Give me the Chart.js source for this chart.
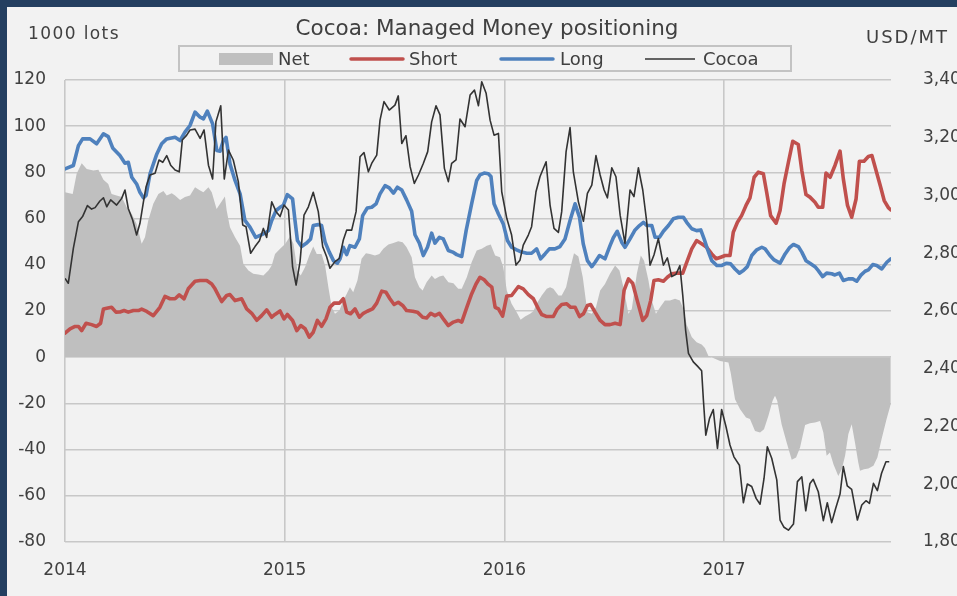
<!DOCTYPE html>
<html>
<head>
<meta charset="utf-8">
<script src="https://cdn.jsdelivr.net/npm/chart.js@4/dist/chart.umd.min.js"></script>
<style>
  html, body { margin: 0; padding: 0; background: #F2F2F2; overflow: hidden; }
  #wrap { position: relative; width: 957px; height: 596px; overflow: hidden; background: #F2F2F2; }
  #c { position: absolute; left: 0; top: 0; }
  .edge { position: absolute; background: #243F60; z-index: 2; }
</style>
</head>
<body>
<div id="wrap">
  <canvas id="c" width="1010" height="596"></canvas>
  <div class="edge" style="left:0;top:0;width:957px;height:7px"></div>
  <div class="edge" style="left:0;top:0;width:7px;height:596px"></div>
</div>
<script>
// ---------------- DATA ----------------
const yearTicks = [2014, 2015, 2016, 2017];
const leftTicks = [-80, -60, -40, -20, 0, 20, 40, 60, 80, 100, 120];
const rightTicks = [1800, 2000, 2200, 2400, 2600, 2800, 3000, 3200, 3400];
const seriesNames = ['Net', 'Short', 'Long', 'Cocoa'];

// Net managed money position, 1000 lots
const netYears = [2014.000,2014.035,2014.053,2014.076,2014.099,2014.129,2014.152,2014.175,2014.197,2014.212,2014.235,2014.258,2014.281,2014.304,2014.326,2014.349,2014.364,2014.379,2014.402,2014.425,2014.448,2014.463,2014.486,2014.501,2014.524,2014.546,2014.569,2014.592,2014.615,2014.630,2014.653,2014.668,2014.690,2014.706,2014.728,2014.736,2014.751,2014.774,2014.797,2014.812,2014.835,2014.857,2014.880,2014.903,2014.926,2014.941,2014.956,2014.979,2015.002,2015.024,2015.040,2015.058,2015.073,2015.093,2015.112,2015.130,2015.146,2015.168,2015.184,2015.199,2015.214,2015.229,2015.249,2015.267,2015.282,2015.297,2015.312,2015.331,2015.350,2015.370,2015.388,2015.411,2015.431,2015.449,2015.472,2015.495,2015.517,2015.537,2015.555,2015.578,2015.593,2015.613,2015.628,2015.646,2015.669,2015.684,2015.704,2015.722,2015.745,2015.768,2015.790,2015.806,2015.829,2015.851,2015.874,2015.897,2015.920,2015.938,2015.958,2015.980,2015.995,2016.011,2016.033,2016.056,2016.074,2016.094,2016.117,2016.132,2016.147,2016.170,2016.193,2016.208,2016.223,2016.246,2016.261,2016.281,2016.299,2016.317,2016.337,2016.357,2016.378,2016.398,2016.417,2016.436,2016.458,2016.481,2016.504,2016.524,2016.542,2016.565,2016.580,2016.603,2016.621,2016.636,2016.656,2016.671,2016.690,2016.709,2016.731,2016.754,2016.777,2016.799,2016.815,2016.830,2016.853,2016.875,2016.898,2016.913,2016.929,2016.951,2016.982,2017.020,2017.030,2017.050,2017.073,2017.100,2017.118,2017.141,2017.164,2017.182,2017.202,2017.221,2017.232,2017.242,2017.262,2017.285,2017.308,2017.328,2017.346,2017.369,2017.391,2017.414,2017.437,2017.452,2017.467,2017.482,2017.498,2017.520,2017.536,2017.551,2017.566,2017.581,2017.596,2017.611,2017.619,2017.637,2017.657,2017.680,2017.698,2017.717,2017.740,2017.759];
const netValues = [71.4,70.7,79.4,84.0,81.5,80.8,81.1,76.8,75.0,70.7,70.0,69.3,64.9,62.0,57.7,49.1,51.9,59.2,66.4,70.7,71.9,70.0,71.0,70.0,68.1,69.3,70.0,73.6,72.2,71.4,73.6,71.4,64.2,66.4,69.6,63.5,56.3,51.9,48.3,40.4,37.5,36.1,35.8,35.4,37.5,39.7,44.7,47.0,49.0,52.2,49.1,37.5,35.4,39.0,44.0,47.9,44.7,44.7,39.7,30.3,21.6,18.8,20.2,24.5,27.4,30.3,28.1,33.2,42.6,45.0,44.7,44.0,44.7,46.9,48.8,49.4,50.2,49.8,47.6,43.3,34.6,30.3,28.9,32.5,35.4,33.9,34.9,35.4,32.5,32.0,29.6,29.6,34.6,41.1,46.2,46.9,48.3,48.8,44.0,43.3,39.0,28.9,23.1,19.5,16.2,17.6,18.8,19.9,23.1,26.7,29.6,30.3,29.6,26.7,26.7,30.3,38.2,45.0,43.6,34.6,19.5,18.8,21.6,28.9,31.7,36.1,39.7,37.5,30.3,18.8,20.9,36.1,44.0,41.8,33.2,24.5,18.8,21.6,24.5,24.5,25.3,24.5,20.9,14.0,8.7,6.5,5.5,4.0,0.5,-0.3,-1.6,-2.3,-6.6,-18.2,-22.5,-26.1,-26.8,-31.9,-32.6,-31.2,-25.4,-18.9,-16.7,-18.9,-29.0,-36.9,-44.4,-43.4,-39.1,-29.4,-28.6,-28.3,-27.6,-32.6,-42.7,-41.3,-46.3,-51.4,-48.5,-42.7,-33.3,-29.0,-36.9,-45.6,-49.2,-48.5,-48.2,-47.0,-43.4,-35.5,-26.8,-20.3];

// Short positions, 1000 lots
const shortYears = [2014.000,2014.023,2014.046,2014.061,2014.076,2014.096,2014.121,2014.144,2014.162,2014.175,2014.190,2014.212,2014.232,2014.250,2014.269,2014.288,2014.311,2014.334,2014.349,2014.372,2014.402,2014.432,2014.455,2014.478,2014.501,2014.520,2014.542,2014.561,2014.592,2014.615,2014.645,2014.668,2014.683,2014.713,2014.736,2014.751,2014.774,2014.804,2014.827,2014.850,2014.873,2014.895,2014.918,2014.941,2014.956,2014.979,2014.997,2015.012,2015.036,2015.055,2015.073,2015.093,2015.112,2015.130,2015.149,2015.168,2015.188,2015.206,2015.225,2015.249,2015.267,2015.282,2015.300,2015.320,2015.340,2015.358,2015.376,2015.400,2015.419,2015.442,2015.461,2015.479,2015.498,2015.517,2015.537,2015.555,2015.583,2015.604,2015.628,2015.646,2015.665,2015.684,2015.704,2015.722,2015.745,2015.768,2015.790,2015.806,2015.829,2015.851,2015.871,2015.889,2015.908,2015.927,2015.943,2015.958,2015.973,2015.992,2016.011,2016.033,2016.064,2016.086,2016.109,2016.132,2016.155,2016.170,2016.193,2016.223,2016.241,2016.261,2016.284,2016.302,2016.322,2016.342,2016.360,2016.378,2016.393,2016.413,2016.436,2016.458,2016.481,2016.504,2016.527,2016.545,2016.565,2016.584,2016.605,2016.630,2016.648,2016.666,2016.681,2016.701,2016.724,2016.742,2016.762,2016.785,2016.812,2016.830,2016.853,2016.875,2016.898,2016.921,2016.944,2016.964,2016.985,2017.005,2017.027,2017.042,2017.061,2017.080,2017.100,2017.118,2017.137,2017.156,2017.179,2017.194,2017.212,2017.237,2017.255,2017.273,2017.293,2017.313,2017.338,2017.354,2017.373,2017.391,2017.414,2017.429,2017.449,2017.464,2017.483,2017.505,2017.528,2017.543,2017.562,2017.581,2017.601,2017.616,2017.637,2017.657,2017.673,2017.692,2017.711,2017.729,2017.749,2017.759];
const shortValues = [10.4,12.3,13.3,13.3,11.5,14.7,14.1,13.3,14.7,20.9,21.2,21.6,19.5,19.6,20.2,19.5,20.2,20.2,20.8,19.8,18.0,21.6,26.3,25.3,25.3,27.0,25.3,29.6,32.9,33.2,33.2,31.7,29.6,24.1,26.7,27.1,24.5,25.3,20.9,19.0,16.0,18.0,20.5,17.3,18.5,20.0,16.6,18.5,15.9,11.5,13.7,12.3,8.7,10.8,15.9,13.4,16.6,21.6,23.4,23.4,25.3,19.5,18.8,20.9,17.3,19.0,19.9,20.9,23.4,28.6,28.1,25.3,22.8,23.8,22.4,20.2,19.9,19.5,17.3,17.0,19.0,18.0,19.0,16.6,13.7,15.2,15.9,15.2,21.6,27.4,31.7,34.6,33.5,31.5,30.3,21.6,20.9,17.8,26.5,26.7,30.6,29.6,27.1,25.3,20.9,18.5,17.6,17.6,20.9,22.8,23.1,21.6,21.6,17.6,18.8,22.4,22.8,19.5,15.9,14.1,14.1,14.7,14.1,28.9,33.9,32.0,24.5,15.9,18.0,24.5,33.2,33.5,32.9,34.6,36.1,36.4,36.4,41.1,46.9,50.5,49.1,47.6,44.7,42.6,43.3,44.0,44.0,54.1,58.4,61.3,65.7,69.0,77.9,80.1,79.4,71.4,61.3,58.0,63.5,75.0,84.4,93.5,92.1,80.8,70.4,69.3,67.1,64.9,64.9,79.7,77.9,83.0,89.2,77.2,65.7,60.6,68.5,84.8,84.8,86.9,87.3,80.8,74.3,67.8,64.6,63.8];

// Long positions, 1000 lots
const longYears = [2014.000,2014.038,2014.061,2014.080,2014.114,2014.144,2014.175,2014.197,2014.217,2014.250,2014.273,2014.288,2014.304,2014.326,2014.341,2014.357,2014.369,2014.387,2014.418,2014.440,2014.463,2014.501,2014.524,2014.546,2014.569,2014.592,2014.615,2014.630,2014.648,2014.672,2014.691,2014.706,2014.721,2014.733,2014.751,2014.774,2014.797,2014.819,2014.842,2014.868,2014.888,2014.910,2014.926,2014.941,2014.961,2014.979,2014.994,2015.012,2015.036,2015.047,2015.058,2015.077,2015.100,2015.118,2015.130,2015.153,2015.168,2015.184,2015.203,2015.222,2015.240,2015.252,2015.267,2015.282,2015.297,2015.320,2015.340,2015.355,2015.376,2015.396,2015.416,2015.434,2015.457,2015.476,2015.495,2015.513,2015.533,2015.555,2015.578,2015.593,2015.613,2015.631,2015.650,2015.669,2015.684,2015.704,2015.722,2015.745,2015.765,2015.783,2015.806,2015.826,2015.851,2015.874,2015.889,2015.908,2015.927,2015.939,2015.953,2015.973,2015.995,2016.014,2016.033,2016.056,2016.079,2016.102,2016.124,2016.147,2016.165,2016.185,2016.205,2016.230,2016.253,2016.276,2016.299,2016.322,2016.342,2016.359,2016.378,2016.398,2016.413,2016.433,2016.458,2016.481,2016.496,2016.514,2016.534,2016.549,2016.572,2016.595,2016.615,2016.633,2016.648,2016.671,2016.686,2016.706,2016.724,2016.747,2016.769,2016.792,2016.815,2016.830,2016.853,2016.875,2016.894,2016.910,2016.924,2016.944,2016.967,2016.990,2017.012,2017.030,2017.050,2017.070,2017.088,2017.106,2017.126,2017.149,2017.172,2017.187,2017.209,2017.228,2017.255,2017.278,2017.297,2017.316,2017.338,2017.354,2017.373,2017.391,2017.414,2017.429,2017.449,2017.467,2017.490,2017.505,2017.525,2017.543,2017.566,2017.586,2017.604,2017.622,2017.642,2017.657,2017.677,2017.695,2017.718,2017.741,2017.759];
const longValues = [81.5,83.0,91.6,94.5,94.5,92.4,96.7,95.5,90.6,87.3,84.0,84.4,77.9,75.0,71.4,69.0,70.0,79.4,88.0,92.4,94.5,95.2,93.8,97.4,100.3,106.1,103.9,103.2,106.5,101.0,89.5,89.2,93.8,95.2,83.7,76.5,70.7,59.2,56.3,51.9,52.7,53.7,54.8,59.2,63.5,64.9,65.7,70.4,68.5,59.2,50.5,47.9,49.4,51.2,57.0,57.4,57.0,49.8,45.5,41.8,40.7,42.6,47.6,44.4,48.3,47.6,51.2,61.3,64.6,64.9,66.4,70.7,74.3,73.3,71.0,73.6,72.4,68.1,63.2,53.0,49.4,44.0,47.6,53.7,49.4,51.9,51.2,46.2,45.5,44.4,43.6,54.8,66.4,76.5,78.9,79.7,79.4,78.2,66.4,62.0,57.7,50.5,47.6,46.5,45.5,45.0,45.0,46.9,42.6,44.7,46.9,46.9,47.9,51.2,59.2,66.4,60.6,49.1,41.8,39.2,41.1,44.0,42.6,48.3,51.7,54.5,49.8,47.6,51.2,55.1,57.0,58.4,57.0,57.0,51.9,51.9,54.5,57.0,59.9,60.6,60.6,58.4,55.6,54.8,55.1,51.0,46.9,41.8,39.7,39.7,40.7,40.4,38.2,36.4,37.5,39.2,44.0,46.5,47.6,46.9,44.0,42.1,40.7,44.7,47.3,48.8,47.9,45.5,41.8,40.7,39.2,37.5,34.9,36.4,36.1,35.6,36.4,33.2,33.9,33.9,32.9,35.4,37.2,37.8,40.1,39.7,38.2,41.1,42.6];

// Cocoa price, USD/MT
const cocoaYears = [2014.000,2014.015,2014.038,2014.061,2014.080,2014.102,2014.121,2014.137,2014.159,2014.175,2014.190,2014.208,2014.235,2014.258,2014.273,2014.288,2014.308,2014.326,2014.341,2014.357,2014.369,2014.387,2014.410,2014.428,2014.445,2014.463,2014.481,2014.501,2014.520,2014.534,2014.554,2014.569,2014.592,2014.615,2014.633,2014.653,2014.672,2014.687,2014.709,2014.725,2014.744,2014.766,2014.789,2014.809,2014.824,2014.845,2014.865,2014.885,2014.903,2014.918,2014.941,2014.961,2014.979,2014.997,2015.017,2015.036,2015.052,2015.070,2015.088,2015.108,2015.130,2015.153,2015.173,2015.191,2015.206,2015.229,2015.249,2015.267,2015.282,2015.305,2015.325,2015.343,2015.361,2015.381,2015.396,2015.419,2015.434,2015.452,2015.476,2015.502,2015.517,2015.533,2015.552,2015.571,2015.590,2015.609,2015.631,2015.651,2015.669,2015.689,2015.707,2015.727,2015.745,2015.760,2015.780,2015.798,2015.821,2015.844,2015.864,2015.882,2015.897,2015.917,2015.935,2015.953,2015.973,2015.988,2016.011,2016.033,2016.053,2016.071,2016.086,2016.109,2016.124,2016.144,2016.162,2016.190,2016.208,2016.226,2016.246,2016.261,2016.281,2016.299,2016.314,2016.337,2016.360,2016.378,2016.398,2016.417,2016.436,2016.454,2016.469,2016.489,2016.508,2016.527,2016.549,2016.572,2016.590,2016.610,2016.630,2016.648,2016.663,2016.681,2016.701,2016.724,2016.742,2016.762,2016.781,2016.799,2016.812,2016.825,2016.838,2016.860,2016.879,2016.898,2016.906,2016.917,2016.934,2016.951,2016.970,2016.989,2017.009,2017.027,2017.045,2017.070,2017.088,2017.106,2017.126,2017.146,2017.164,2017.182,2017.197,2017.217,2017.240,2017.255,2017.273,2017.293,2017.316,2017.334,2017.354,2017.372,2017.391,2017.406,2017.429,2017.452,2017.470,2017.490,2017.508,2017.528,2017.543,2017.561,2017.581,2017.607,2017.627,2017.646,2017.662,2017.680,2017.698,2017.717,2017.737,2017.752];
const cocoaPrices = [2713,2696,2817,2909,2927,2965,2953,2958,2981,2992,2961,2985,2967,2990,3019,2955,2915,2863,2903,2978,3030,3071,3077,3123,3115,3138,3105,3088,3082,3192,3209,3227,3230,3198,3227,3105,3057,3255,3311,3057,3157,3123,3048,2898,2892,2800,2823,2843,2886,2855,2978,2944,2927,2967,2950,2753,2690,2771,2932,2961,3011,2944,2823,2788,2748,2771,2782,2846,2880,2880,2944,3134,3149,3082,3111,3140,3261,3325,3296,3313,3345,3180,3207,3100,3042,3071,3111,3152,3255,3311,3279,3094,3048,3111,3123,3265,3238,3348,3365,3311,3394,3354,3261,3209,3215,3013,2921,2863,2759,2776,2828,2863,2892,3013,3065,3117,2967,2886,2872,2944,3152,3235,3082,2978,2911,3007,3036,3138,3071,3019,2992,3096,3065,2932,2834,3019,2996,3096,3019,2909,2759,2794,2851,2759,2784,2719,2727,2757,2655,2534,2453,2424,2409,2393,2292,2170,2228,2259,2124,2259,2199,2136,2095,2066,1936,2001,1992,1951,1931,2020,2130,2090,2015,1876,1851,1841,1862,2009,2026,1908,2003,2017,1974,1874,1936,1867,1916,1966,2061,1994,1982,1876,1928,1943,1934,2003,1978,2038,2078,2078];

// ---------------- CHART ----------------
const pts = (xs, ys) => xs.map((x, i) => ({ x: x, y: ys[i] }));
const TXT = '#404040';
const FONT = '"DejaVu Sans", Verdana, sans-serif';

const overlay = {
  id: 'overlay',
  afterDraw(chart) {
    const ctx = chart.ctx;
    ctx.save();
    ctx.fillStyle = TXT;
    ctx.textBaseline = 'alphabetic';
    // title
    ctx.font = '21.5px ' + FONT;
    ctx.textAlign = 'center';
    ctx.fillText('Cocoa: Managed Money positioning', 487, 35);
    // axis units
    ctx.textAlign = 'left';
    ctx.font = '17px ' + FONT;
    ctx.letterSpacing = '1.4px';
    ctx.fillText('1000 lots', 28, 39);
    ctx.font = '18px ' + FONT;
    ctx.letterSpacing = '2px';
    ctx.fillText('USD/MT', 866, 43);
    ctx.letterSpacing = '0px';
    // legend box
    ctx.strokeStyle = '#C3C3C3';
    ctx.lineWidth = 2;
    ctx.strokeRect(179, 46, 612, 25);
    ctx.font = '18px ' + FONT;
    // Net
    ctx.fillStyle = '#BFBFBF';
    ctx.fillRect(219, 53, 54, 12);
    ctx.fillStyle = TXT;
    ctx.fillText(seriesNames[0], 278, 65);
    // Short
    ctx.lineCap = 'round';
    ctx.strokeStyle = '#C0504D'; ctx.lineWidth = 3.5;
    ctx.beginPath(); ctx.moveTo(351, 59); ctx.lineTo(403, 59); ctx.stroke();
    ctx.fillText(seriesNames[1], 409, 65);
    // Long
    ctx.strokeStyle = '#4F81BD';
    ctx.beginPath(); ctx.moveTo(501, 59); ctx.lineTo(553, 59); ctx.stroke();
    ctx.fillText(seriesNames[2], 560, 65);
    // Cocoa
    ctx.lineCap = 'butt';
    ctx.strokeStyle = '#333333'; ctx.lineWidth = 1.6;
    ctx.beginPath(); ctx.moveTo(645, 59); ctx.lineTo(695, 59); ctx.stroke();
    ctx.fillText(seriesNames[3], 703, 65);
    ctx.restore();
  }
};

new Chart(document.getElementById('c'), {
  type: 'line',
  data: {
    datasets: [
      { label: seriesNames[3], data: pts(cocoaYears, cocoaPrices), yAxisID: 'y2', borderColor: '#333333', borderWidth: 1.6, pointRadius: 0, fill: false, order: 0, borderJoinStyle: 'round' },
      { label: seriesNames[2], data: pts(longYears, longValues), yAxisID: 'y', borderColor: '#4F81BD', borderWidth: 3.6, pointRadius: 0, fill: false, order: 1, borderJoinStyle: 'round', borderCapStyle: 'round' },
      { label: seriesNames[1], data: pts(shortYears, shortValues), yAxisID: 'y', borderColor: '#C0504D', borderWidth: 3.6, pointRadius: 0, fill: false, order: 2, borderJoinStyle: 'round', borderCapStyle: 'round' },
      { label: seriesNames[0], data: pts(netYears, netValues), yAxisID: 'y', borderColor: 'rgba(0,0,0,0)', borderWidth: 0, backgroundColor: '#BFBFBF', pointRadius: 0, fill: 'origin', order: 3 }
    ]
  },
  options: {
    responsive: false,
    animation: false,
    devicePixelRatio: 1,
    layout: { padding: { top: 80, left: 0, right: 0, bottom: 0 }, autoPadding: false },
    plugins: { legend: { display: false }, title: { display: false }, tooltip: { enabled: false } },
    elements: { line: { tension: 0 } },
    scales: {
      x: {
        type: 'linear',
        min: 2014, max: 2017.76,
        afterBuildTicks: s => { s.ticks = yearTicks.map(v => ({ value: v })); },
        afterFit: s => { s.height = 54; },
        grid: { color: '#C8C8C8', lineWidth: 1.6, drawTicks: false },
        border: { display: false },
        ticks: { color: TXT, font: { family: FONT, size: 17 }, padding: 18, maxRotation: 0, callback: v => String(v) }
      },
      y: {
        position: 'left',
        min: -80, max: 120,
        afterBuildTicks: s => { s.ticks = leftTicks.map(v => ({ value: v })); },
        afterFit: s => { s.width = 65; },
        grid: { color: '#C8C8C8', lineWidth: 1.6, drawTicks: false },
        border: { display: false },
        ticks: { color: TXT, font: { family: FONT, size: 17 }, padding: 19, callback: v => String(v) }
      },
      y2: {
        position: 'right',
        min: 1800, max: 3400,
        afterBuildTicks: s => { s.ticks = rightTicks.map(v => ({ value: v })); },
        afterFit: s => { s.width = 1010 - 891; },
        grid: { display: false, drawTicks: false },
        border: { display: false },
        ticks: { color: TXT, font: { family: FONT, size: 17 }, padding: 32, callback: v => v.toLocaleString('en-US') }
      }
    }
  },
  plugins: [overlay]
});
</script>
</body>
</html>
